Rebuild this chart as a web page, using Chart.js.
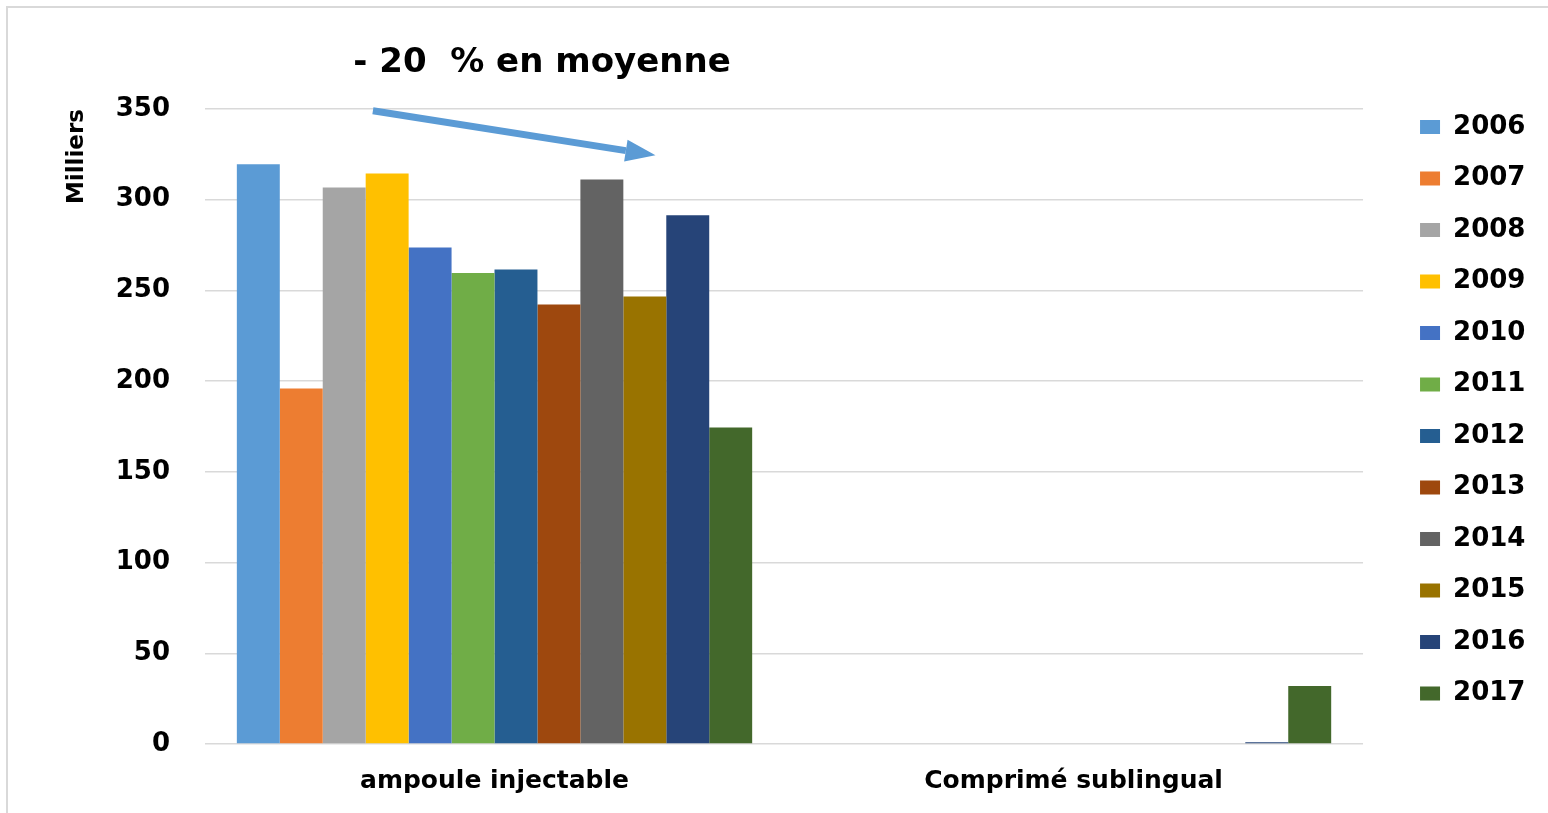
<!DOCTYPE html>
<html>
<head>
<meta charset="utf-8">
<script src="https://cdn.jsdelivr.net/npm/chart.js@4"></script>
<style>
  body { margin: 0; background: #fff; }
  #wrap { position: relative; width: 1548px; height: 813px; overflow: hidden; }
  #frame { position: absolute; left: 6px; top: 6px; width: 1560px; height: 820px;
           border-left: 2px solid #d9d9d9; border-top: 2px solid #d9d9d9; pointer-events: none; }
</style>
</head>
<body>
<div id="wrap">
  <canvas id="myChart" width="1548" height="813"></canvas>
  <div id="frame"></div>
</div>
<script>
// categories and series (values in thousands)
var categories = ['ampoule injectable', 'Comprimé sublingual'];
var years = ['2006', '2007', '2008', '2009', '2010', '2011', '2012', '2013', '2014', '2015', '2016', '2017'];
var ampoule = [319.5, 196, 306.8, 314.5, 273.7, 259.6, 261.6, 242.3, 311.2, 246.7, 291.4, 174.4];
var sublingual = [0, 0, 0, 0, 0, 0, 0, 0, 0, 0, 1, 32];
var colors = ['#5B9BD5', '#ED7D31', '#A5A5A5', '#FFC000', '#4472C4', '#70AD47',
              '#255E91', '#9E480E', '#636363', '#997300', '#264478', '#43682B'];
var yTicks = [0, 50, 100, 150, 200, 250, 300, 350];

// annotation: text and arrow, placed in chart units (category index, value)
var noteText = '- 20  % en moyenne';
var notePos = [0.082, 375.5];
var arrowFrom = [-0.21, 349];
var arrowTo = [0.278, 324.5];

var datasets = years.map(function (yr, i) {
  return {
    label: yr,
    data: [ampoule[i], sublingual[i]],
    backgroundColor: colors[i],
    borderWidth: 0,
    categoryPercentage: 0.89,
    barPercentage: 1
  };
});

var annotate = {
  id: 'annotate',
  afterDraw: function (chart) {
    var ctx = chart.ctx;
    var x = chart.scales.x, y = chart.scales.y;
    ctx.save();
    ctx.font = 'bold 34px "DejaVu Sans"';
    ctx.fillStyle = '#000';
    ctx.textAlign = 'center';
    ctx.textBaseline = 'middle';
    ctx.fillText(noteText, x.getPixelForValue(notePos[0]), y.getPixelForValue(notePos[1]));

    var x1 = x.getPixelForValue(arrowFrom[0]), y1 = y.getPixelForValue(arrowFrom[1]);
    var x2 = x.getPixelForValue(arrowTo[0]), y2 = y.getPixelForValue(arrowTo[1]);
    var ang = Math.atan2(y2 - y1, x2 - x1);
    var headLen = 30, headW = 11;
    var bx = x2 - headLen * Math.cos(ang), by = y2 - headLen * Math.sin(ang);
    ctx.strokeStyle = '#5B9BD5';
    ctx.fillStyle = '#5B9BD5';
    ctx.lineWidth = 7;
    ctx.beginPath();
    ctx.moveTo(x1, y1);
    ctx.lineTo(bx, by);
    ctx.stroke();
    ctx.beginPath();
    ctx.moveTo(x2, y2);
    ctx.lineTo(bx + headW * Math.sin(ang), by - headW * Math.cos(ang));
    ctx.lineTo(bx - headW * Math.sin(ang), by + headW * Math.cos(ang));
    ctx.closePath();
    ctx.fill();
    ctx.restore();
  }
};

var ctx = document.getElementById('myChart').getContext('2d');
var myChart = new Chart(ctx, {
  type: 'bar',
  data: {
    labels: categories,
    datasets: datasets
  },
  options: {
    responsive: false,
    animation: false,
    layout: { padding: { top: 88.5, left: 0, right: 12.6, bottom: 0 } },
    plugins: {
      tooltip: { enabled: false },
      title: {
        display: true,
        text: ' ',
        font: { size: 10 },
        padding: { top: 0, bottom: 8.5 }
      },
      legend: {
        position: 'right',
        align: 'start',
        labels: {
          boxWidth: 20,
          boxHeight: 14,
          padding: 25.5,
          color: '#000',
          font: { family: '"DejaVu Sans"', size: 26, weight: 'bold' }
        }
      }
    },
    scales: {
      x: {
        grid: { display: false, drawTicks: false },
        border: { display: false },
        ticks: {
          color: '#000',
          padding: 22,
          font: { family: '"DejaVu Sans"', size: 25, weight: 'bold' }
        },
        afterFit: function (s) { s.height = 69; }
      },
      y: {
        min: 0,
        max: 350,
        afterBuildTicks: function (s) {
          s.ticks = yTicks.map(function (v) { return { value: v }; });
        },
        grid: { color: '#d9d9d9', lineWidth: 1.5, drawTicks: false },
        border: { display: false },
        ticks: {
          color: '#000',
          padding: 35,
          font: { family: '"DejaVu Sans"', size: 26, weight: 'bold' }
        },
        title: {
          display: true,
          text: 'Milliers',
          align: 'end',
          color: '#000',
          font: { family: '"DejaVu Sans"', size: 23, weight: 'bold' },
          padding: { top: 63, bottom: 0 }
        },
        afterFit: function (s) { s.width = 205; }
      },
      gap: {
        type: 'linear',
        position: 'right',
        grid: { display: false },
        ticks: { display: false },
        border: { display: false },
        afterFit: function (s) { s.width = 31.5; }
      }
    }
  },
  plugins: [annotate]
});
</script>
</body>
</html>
